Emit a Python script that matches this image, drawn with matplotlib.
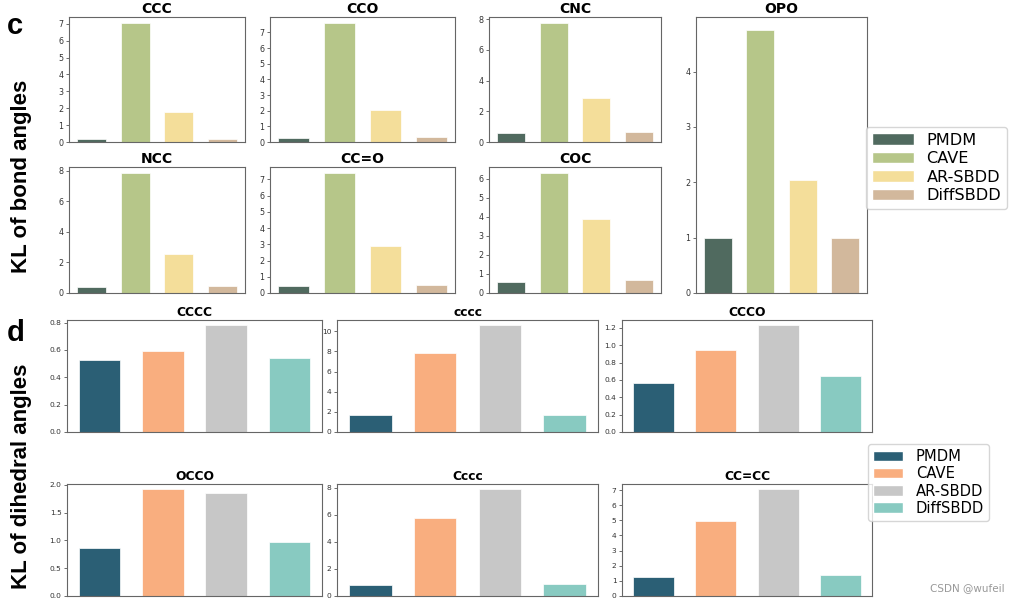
import numpy as np
import matplotlib
matplotlib.use('Agg')
import matplotlib.pyplot as plt
from matplotlib.patches import Patch
from matplotlib.ticker import MultipleLocator

methods = ['PMDM', 'CAVE', 'AR-SBDD', 'DiffSBDD']

# panel c: KL of bond angles
bond_names = ['CCC', 'CCO', 'CNC', 'NCC', 'CC=O', 'COC', 'OPO']
bond_vals = {
    'CCC':  [0.17, 7.05, 1.80, 0.18],
    'CCO':  [0.25, 7.60, 2.02, 0.30],
    'CNC':  [0.60, 7.75, 2.85, 0.65],
    'NCC':  [0.38, 7.85, 2.55, 0.43],
    'CC=O': [0.45, 7.40, 2.88, 0.48],
    'COC':  [0.60, 6.30, 3.88, 0.68],
    'OPO':  [1.00, 4.75, 2.05, 0.99],
}
bond_colors = ['#506a5f', '#b6c689', '#f4de9a', '#d2b89c']

# panel d: KL of dihedral angles
dih_names = ['CCCC', 'cccc', 'CCCO', 'OCCO', 'Cccc', 'CC=CC']
dih_vals = {
    'CCCC':  [0.53, 0.59, 0.78, 0.54],
    'cccc':  [1.70, 7.90, 10.60, 1.65],
    'CCCO':  [0.57, 0.94, 1.23, 0.64],
    'OCCO':  [0.87, 1.92, 1.85, 0.97],
    'Cccc':  [0.80, 5.75, 7.90, 0.88],
    'CC=CC': [1.28, 4.95, 7.05, 1.42],
}
dih_colors = ['#2b5f75', '#f9ae7f', '#c7c7c7', '#88cac1']

W, H = 1012, 605
fig = plt.figure(figsize=(W / 100, H / 100), dpi=100)


def px_axes(x0, y0, x1, y1):
    # pixel box (left, top, right, bottom) -> figure axes
    return fig.add_axes([x0 / W, 1 - y1 / H, (x1 - x0) / W, (y1 - y0) / H])


def bar_panel(ax, title, vals, colors, step, tfs, tickfs, pad):
    x = np.arange(len(vals))
    ax.bar(x, vals, width=0.66, color=colors, edgecolor='white', linewidth=0.5)
    ax.set_xticks([])
    ax.yaxis.set_major_locator(MultipleLocator(step))
    ax.set_title(title, fontsize=tfs, fontweight='bold', pad=pad)
    ax.tick_params(axis='y', labelsize=tickfs, length=2.5, width=0.5, pad=1.5,
                   colors='#333333')
    for s in ax.spines.values():
        s.set_color('#666666')
        s.set_linewidth(0.8)


# panel c layout (pixels) and y tick steps
bond_boxes = {
    'CCC':  (69, 17, 245, 142),
    'CCO':  (270, 17, 455, 142),
    'CNC':  (489, 17, 661, 142),
    'NCC':  (69, 167, 245, 293),
    'CC=O': (270, 167, 455, 293),
    'COC':  (489, 167, 661, 293),
    'OPO':  (696, 17, 867, 293),
}
bond_steps = {'CCC': 1, 'CCO': 1, 'CNC': 2, 'NCC': 2, 'CC=O': 1, 'COC': 1, 'OPO': 1}
for name in bond_names:
    ax = px_axes(*bond_boxes[name])
    bar_panel(ax, name, bond_vals[name], bond_colors, bond_steps[name], 10, 5.8, 3)

# panel d layout (pixels) and y tick steps
dih_boxes = {
    'CCCC':  (67, 320, 322, 432),
    'cccc':  (337, 320, 598, 432),
    'CCCO':  (622, 320, 872, 432),
    'OCCO':  (67, 484, 322, 596),
    'Cccc':  (337, 484, 598, 596),
    'CC=CC': (622, 484, 872, 596),
}
dih_steps = {'CCCC': 0.2, 'cccc': 2, 'CCCO': 0.2, 'OCCO': 0.5, 'Cccc': 2, 'CC=CC': 1}
for name in dih_names:
    ax = px_axes(*dih_boxes[name])
    bar_panel(ax, name, dih_vals[name], dih_colors, dih_steps[name], 8.8, 5.4, 3)

# legends
h_c = [Patch(facecolor=c, edgecolor='white', label=m) for c, m in zip(bond_colors, methods)]
fig.legend(handles=h_c, loc='upper left', bbox_to_anchor=(866 / W, 1 - 127 / H),
           borderaxespad=0, fontsize=11.6, handlelength=2.6, handletextpad=0.8,
           labelspacing=0.22, borderpad=0.35)
h_d = [Patch(facecolor=c, edgecolor='white', label=m) for c, m in zip(dih_colors, methods)]
fig.legend(handles=h_d, loc='upper left', bbox_to_anchor=(868 / W, 1 - 444 / H),
           borderaxespad=0, fontsize=10.6, handlelength=2.0, handletextpad=0.9,
           labelspacing=0.15, borderpad=0.35)

# panel letters and side labels
lab = dict(family='Liberation Sans', fontweight='bold', ha='center', va='center')
fig.text(15 / W, 1 - 26 / H, 'c', fontsize=21, **lab)
fig.text(16 / W, 1 - 333 / H, 'd', fontsize=21, **lab)
fig.text(22 / W, 1 - 176 / H, 'KL of bond angles', fontsize=16, rotation=90, **lab)
fig.text(22 / W, 1 - 476 / H, 'KL of dihedral angles', fontsize=16, rotation=90, **lab)

fig.text(967 / W, 1 - 588 / H, 'CSDN @wufeil', fontsize=7.5, color='#999999',
         ha='center', va='center')

fig.savefig('out.png', dpi=100)
